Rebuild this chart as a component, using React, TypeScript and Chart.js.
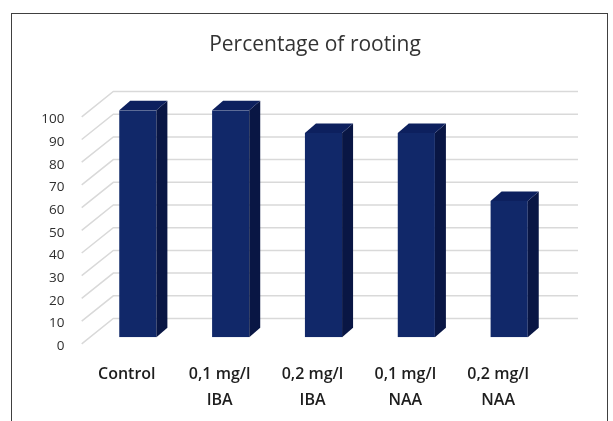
import React, { useEffect, useRef } from "react";
import { Chart, registerables } from "chart.js";

Chart.register(...registerables);

const chartTitle = "Percentage of rooting";
const categories: (string | string[])[] = [
  "Control",
  ["0,1 mg/l", "IBA"],
  ["0,2 mg/l", "IBA"],
  ["0,1 mg/l", "NAA"],
  ["0,2 mg/l", "NAA"],
];
const rootingPercent = [100, 100, 90, 90, 60];
const yTickValues = [0, 10, 20, 30, 40, 50, 60, 70, 80, 90, 100];

const FRONT = "#112869";
const SIDE = "#091644";
const TOP = "#0d205e";
const GRID = "#d9d9d9";

// 3D geometry (pixel offsets relative to chart area / bar front plane)
const BAR_DX = 11;
const BAR_DY = -9.5;
const WALL_FRONT_DX = -9.7;
const WALL_FRONT_DY = 6.5;
const WALL_BACK_DX = 21.9;
const WALL_BACK_DY = -18.8;
const WALL_RIGHT_EXT = 22.4;
const TITLE_CENTER_X = 315;

const threeD = {
  id: "threeD",
  afterLayout(chart: any) {
    const tb = chart.titleBlock;
    if (tb) {
      const half = 150;
      tb.left = TITLE_CENTER_X - half;
      tb.right = TITLE_CENTER_X + half;
    }
  },
  beforeDatasetsDraw(chart: any) {
    const { ctx, chartArea, scales } = chart;
    const y = scales.y;
    ctx.save();
    ctx.strokeStyle = GRID;
    ctx.lineWidth = 1.5;
    for (const t of y.ticks) {
      const py = y.getPixelForValue(t.value);
      const fx = chartArea.left + WALL_FRONT_DX;
      const fy = py + WALL_FRONT_DY;
      const bx = chartArea.left + WALL_BACK_DX;
      const by = py + WALL_BACK_DY;
      ctx.beginPath();
      ctx.moveTo(fx, fy);
      ctx.lineTo(bx, by);
      ctx.lineTo(chartArea.right + WALL_RIGHT_EXT, by);
      ctx.stroke();
    }
    ctx.restore();
  },
  afterDatasetsDraw(chart: any) {
    const { ctx } = chart;
    const meta = chart.getDatasetMeta(0);
    ctx.save();
    meta.data.forEach((bar: any) => {
      const { x, y, base, width } = bar.getProps(["x", "y", "base", "width"], true);
      const x0 = x - width / 2;
      const x1 = x + width / 2;
      // side face
      ctx.fillStyle = SIDE;
      ctx.beginPath();
      ctx.moveTo(x1, y);
      ctx.lineTo(x1 + BAR_DX, y + BAR_DY);
      ctx.lineTo(x1 + BAR_DX, base + BAR_DY);
      ctx.lineTo(x1, base);
      ctx.closePath();
      ctx.fill();
      // top face
      ctx.fillStyle = TOP;
      ctx.beginPath();
      ctx.moveTo(x0, y);
      ctx.lineTo(x1, y);
      ctx.lineTo(x1 + BAR_DX, y + BAR_DY);
      ctx.lineTo(x0 + BAR_DX, y + BAR_DY);
      ctx.closePath();
      ctx.fill();
    });
    ctx.restore();
  },
};

export default function App() {
  const canvasRef = useRef<HTMLCanvasElement | null>(null);

  useEffect(() => {
    if (!canvasRef.current) return;
    const chart = new Chart(canvasRef.current, {
      type: "bar",
      data: {
        labels: categories,
        datasets: [
          {
            data: rootingPercent,
            backgroundColor: FRONT,
            borderWidth: 0,
            categoryPercentage: 0.8,
            barPercentage: 0.5,
          },
        ],
      },
      options: {
        animation: false,
        responsive: false,
        layout: { padding: { left: 30, right: 57.4, top: 0, bottom: 0 } },
        plugins: {
          legend: { display: false },
          tooltip: { enabled: false },
          title: {
            display: true,
            text: chartTitle,
            color: "#333333",
            font: { family: "'Open Sans', sans-serif", size: 21, weight: "normal" },
            padding: { top: 32, bottom: 53.1 },
          },
        },
        scales: {
          x: {
            grid: { display: false, drawTicks: false },
            border: { display: false },
            ticks: {
              color: "#1e1e1e",
              font: { family: "'Open Sans', sans-serif", size: 16, weight: 600, lineHeight: 1.625 },
              padding: 24,
              labelOffset: -11,
              maxRotation: 0,
              autoSkip: false,
            },
            afterFit: (s: any) => {
              s.height = 83.7;
            },
          },
          y: {
            min: 0,
            max: 100,
            grid: { display: false, drawTicks: false },
            border: { display: false },
            afterBuildTicks: (s: any) => {
              s.ticks = yTickValues.map((v) => ({ value: v }));
            },
            ticks: {
              color: "#2e2e2e",
              font: { family: "'Open Sans', sans-serif", size: 13.5 },
              padding: 27,
              labelOffset: 9,
            },
            afterFit: (s: any) => {
              s.width = 61.4;
            },
          },
        },
      },
      plugins: [threeD],
    });
    return () => chart.destroy();
  }, []);

  return (
    <div
      style={{
        position: "absolute",
        left: 0,
        top: 0,
        width: 613,
        height: 421,
        background: "#ffffff",
        overflow: "hidden",
      }}
    >
      <div
        style={{
          position: "absolute",
          left: 11,
          top: 13,
          width: 595,
          height: 440,
          borderTop: "1.5px solid #404040",
          borderLeft: "1.5px solid #404040",
          borderRight: "1.5px solid #404040",
        }}
      />
      <canvas
        ref={canvasRef}
        width={613}
        height={421}
        style={{ position: "absolute", left: 0, top: 0, width: 613, height: 421 }}
      />
    </div>
  );
}
